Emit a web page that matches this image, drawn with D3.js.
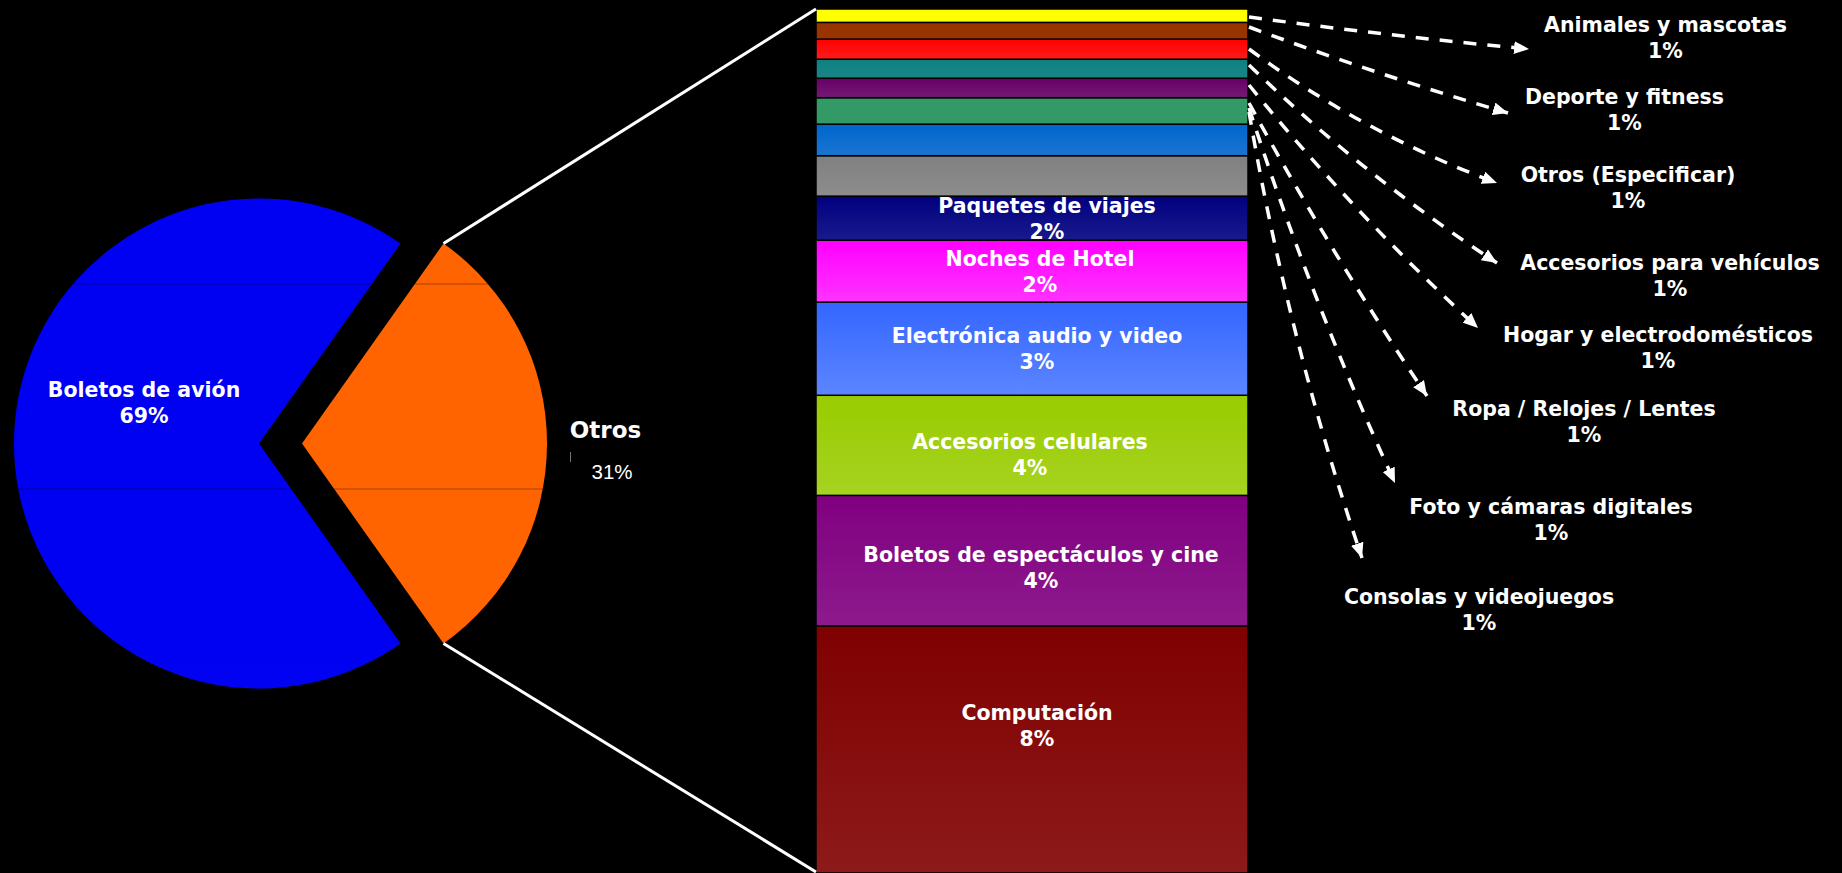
<!DOCTYPE html>
<html><head><meta charset="utf-8">
<script src="https://cdn.jsdelivr.net/npm/d3@7"></script>
<style>html,body{margin:0;padding:0;background:#000;overflow:hidden}</style>
</head><body>
<svg id="chart" width="1842" height="873"></svg>
<script>
// ---------------- DATA ----------------
const pieCategories = ["Boletos de avión", "Otros"];
const pieValues = [69.6, 30.4];
const pieLabels = ["69%", "31%"];

// secondary bar, listed bottom -> top
const barCategories = ["Computación", "Boletos de espectáculos y cine", "Accesorios celulares",
  "Electrónica audio y video", "Noches de Hotel", "Paquetes de viajes",
  "Consolas y videojuegos", "Foto y cámaras digitales", "Ropa / Relojes / Lentes",
  "Hogar y electrodomésticos", "Accesorios para vehículos", "Otros (Especificar)",
  "Deporte y fitness", "Animales y mascotas"];
const barValues = [8.86, 4.68, 3.59, 3.34, 2.22, 1.58, 1.45, 1.13, 0.95, 0.70, 0.68, 0.72, 0.60, 0.48];
const barLabels = ["8%", "4%", "4%", "3%", "2%", "2%", "1%", "1%", "1%", "1%", "1%", "1%", "1%", "1%"];

// ---------------- STYLE / LAYOUT ----------------
const barColors = ["#800000", "#800080", "#99CC00", "#3366FF", "#FF00FF", "#000080",
  "#808080", "#0066CC", "#339966", "#660066", "#0E8080", "#FF0000", "#993300", "#FFFF00"];
const barLighten = [0.1, 0.1, 0.13, 0.2, 0.2, 0.1, 0.1, 0.1, 0.0, 0.1, 0.05, 0.1, 0.0, 0.0];
const W = 1842, H = 873;
const FONT = "'DejaVu Sans', Verdana, sans-serif";
const barX0 = 816, barX1 = 1248, barTop = 9, barBottom = 873;
const pieCx = 280.5, pieCy = 443.5, pieR = 245, explode = 21.5;
const inLabelCx = [1037, 1041, 1030, 1037, 1040, 1047];
const inLabelDy = [-24, 7, 9, 0, 0, 0];
// external labels, top -> bottom (bar indices 13 .. 6)
const extIndex = [13, 12, 11, 10, 9, 8, 7, 6];
const extLabelCx = [1665.5, 1624.5, 1628, 1670, 1658, 1584, 1551, 1479];
const extLabelBase = [32, 104, 182, 270, 342, 416, 514, 604];
const arrowStartY = [17, 27, 49, 65, 85, 103, 108, 112];
const arrowEnd = [[1529, 49], [1508, 113], [1497, 183], [1497, 263], [1478, 328], [1427, 396], [1395, 483], [1362, 558]];
const arrowBend = [3, 5, 20, 15, 12, 8, 12, 18];

const svg = d3.select("#chart");
svg.append("rect").attr("width", W).attr("height", H).attr("fill", "#000");
const defs = svg.append("defs");

// ---------------- PIE ----------------
const pieTotal = d3.sum(pieValues);
const otherFrac = pieValues[1] / pieTotal;
const startA = Math.PI / 2 + otherFrac * Math.PI;
const pie = d3.pie().sort(null).value(d => d).startAngle(startA).endAngle(startA + 2 * Math.PI);
const arcs = pie(pieValues);
const arc = d3.arc().innerRadius(0).outerRadius(pieR);

const gBlue = defs.append("linearGradient").attr("id", "gBlue").attr("gradientUnits", "userSpaceOnUse")
  .attr("x1", 0).attr("x2", 0).attr("y1", pieCy - pieR).attr("y2", pieCy + pieR);
gBlue.append("stop").attr("offset", 0).attr("stop-color", "#0000F2");
gBlue.append("stop").attr("offset", 1).attr("stop-color", "#1C1CFF");
const gOr = defs.append("linearGradient").attr("id", "gOr").attr("gradientUnits", "userSpaceOnUse")
  .attr("x1", 0).attr("x2", 0).attr("y1", pieCy - pieR).attr("y2", pieCy + pieR);
gOr.append("stop").attr("offset", 0).attr("stop-color", "#FF6400");
gOr.append("stop").attr("offset", 0.5).attr("stop-color", "#FF7A1E");
gOr.append("stop").attr("offset", 1).attr("stop-color", "#FF6400");
const pieFills = ["url(#gBlue)", "url(#gOr)"];

function offsetOf(d) {
  const m = (d.startAngle + d.endAngle) / 2;
  return [explode * Math.sin(m), -explode * Math.cos(m)];
}
const clip = defs.append("clipPath").attr("id", "pieClip");
arcs.forEach(d => {
  const o = offsetOf(d);
  clip.append("path").attr("d", arc(d)).attr("transform", `translate(${pieCx + o[0]},${pieCy + o[1]})`);
});
svg.selectAll("path.slice").data(arcs).join("path").attr("class", "slice")
  .attr("d", arc)
  .attr("transform", d => { const o = offsetOf(d); return `translate(${pieCx + o[0]},${pieCy + o[1]})`; })
  .attr("fill", (d, i) => pieFills[i]);
// gradient banding lines
const bands = svg.append("g").attr("clip-path", "url(#pieClip)");
[284, 489].forEach(yy => bands.append("line").attr("x1", 0).attr("x2", 700).attr("y1", yy).attr("y2", yy)
  .attr("stroke", "rgba(0,0,0,0.35)").attr("stroke-width", 1));

// ---------------- BAR ----------------
const total = d3.sum(barValues);
const y = d3.scaleLinear().domain([0, total]).range([barBottom, barTop]);
const starts = Array.from(d3.cumsum([0, ...barValues]));

barColors.forEach((c, i) => {
  const g = defs.append("linearGradient").attr("id", "gb" + i).attr("x1", 0).attr("x2", 0).attr("y1", 0).attr("y2", 1);
  g.append("stop").attr("offset", 0).attr("stop-color", c);
  g.append("stop").attr("offset", 1).attr("stop-color", d3.interpolateRgb(c, "#fff")(barLighten[i]));
});

svg.selectAll("rect.seg").data(barValues).join("rect").attr("class", "seg")
  .attr("x", barX0).attr("width", barX1 - barX0)
  .attr("y", (v, i) => y(starts[i] + v))
  .attr("height", (v, i) => y(starts[i]) - y(starts[i] + v))
  .attr("fill", (v, i) => "url(#gb" + i + ")")
  .attr("stroke", "#000").attr("stroke-width", 1.5);

// inner labels
for (let i = 0; i < 6; i++) {
  const mid = (y(starts[i]) + y(starts[i] + barValues[i])) / 2;
  const b1 = mid - 5.5 + inLabelDy[i];
  const t = svg.append("text").attr("text-anchor", "middle").attr("fill", "#fff")
    .attr("font-family", FONT).attr("font-weight", "bold").attr("font-size", "20.5px");
  t.append("tspan").attr("x", inLabelCx[i]).attr("y", b1).text(barCategories[i]);
  t.append("tspan").attr("x", inLabelCx[i]).attr("y", b1 + 26).text(barLabels[i]);
}

// ---------------- CONNECTORS ----------------
const od = arcs[1], oo = offsetOf(od);
const cTop = [pieCx + oo[0] + pieR * Math.sin(od.startAngle), pieCy + oo[1] - pieR * Math.cos(od.startAngle)];
const cBot = [pieCx + oo[0] + pieR * Math.sin(od.endAngle), pieCy + oo[1] - pieR * Math.cos(od.endAngle)];
svg.append("line").attr("x1", cTop[0]).attr("y1", cTop[1]).attr("x2", barX0).attr("y2", y(total))
  .attr("stroke", "#fff").attr("stroke-width", 3);
svg.append("line").attr("x1", cBot[0]).attr("y1", cBot[1]).attr("x2", barX0).attr("y2", y(0) - 1)
  .attr("stroke", "#fff").attr("stroke-width", 3);

// ---------------- PIE LABELS ----------------
const pl = svg.append("text").attr("text-anchor", "middle").attr("fill", "#fff")
  .attr("font-family", FONT).attr("font-weight", "bold").attr("font-size", "20.5px");
pl.append("tspan").attr("x", 144).attr("y", 397).text(pieCategories[0]);
pl.append("tspan").attr("x", 144).attr("y", 423).text(pieLabels[0]);
svg.append("text").attr("x", 605.5).attr("y", 438).attr("text-anchor", "middle").attr("fill", "#fff")
  .attr("font-family", FONT).attr("font-weight", "bold").attr("font-size", "23px").text(pieCategories[1]);
svg.append("text").attr("x", 612).attr("y", 479).attr("text-anchor", "middle").attr("fill", "#fff")
  .attr("font-family", "'Liberation Sans', Arial, sans-serif").attr("font-size", "20.5px").text(pieLabels[1]);
svg.append("line").attr("x1", 570.5).attr("x2", 570.5).attr("y1", 452).attr("y2", 462)
  .attr("stroke", "#777").attr("stroke-width", 1);

// ---------------- ARROWS + EXTERNAL LABELS ----------------
defs.append("marker").attr("id", "arrow").attr("markerUnits", "userSpaceOnUse")
  .attr("markerWidth", 16).attr("markerHeight", 13).attr("refX", 15).attr("refY", 6.5)
  .attr("orient", "auto")
  .append("path").attr("d", "M0,0 L15,6.5 L0,13 Z").attr("fill", "#fff");

extIndex.forEach((bi, k) => {
  const sx = barX1 + 1, sy = arrowStartY[k];
  const [ex, ey] = arrowEnd[k];
  const dx = ex - sx, dy = ey - sy, len = Math.hypot(dx, dy);
  const nx = -dy / len, ny = dx / len;
  const cx = (sx + ex) / 2 + arrowBend[k] * nx, cy = (sy + ey) / 2 + arrowBend[k] * ny;
  svg.append("path").attr("d", `M${sx},${sy} Q${cx},${cy} ${ex},${ey}`)
    .attr("fill", "none").attr("stroke", "#fff").attr("stroke-width", 3.5)
    .attr("stroke-dasharray", "13,11").attr("marker-end", "url(#arrow)");
  const t = svg.append("text").attr("text-anchor", "middle").attr("fill", "#fff")
    .attr("font-family", FONT).attr("font-weight", "bold").attr("font-size", "20.5px");
  t.append("tspan").attr("x", extLabelCx[k]).attr("y", extLabelBase[k]).text(barCategories[bi]);
  t.append("tspan").attr("x", extLabelCx[k]).attr("y", extLabelBase[k] + 26).text(barLabels[bi]);
});
</script>
</body></html>
